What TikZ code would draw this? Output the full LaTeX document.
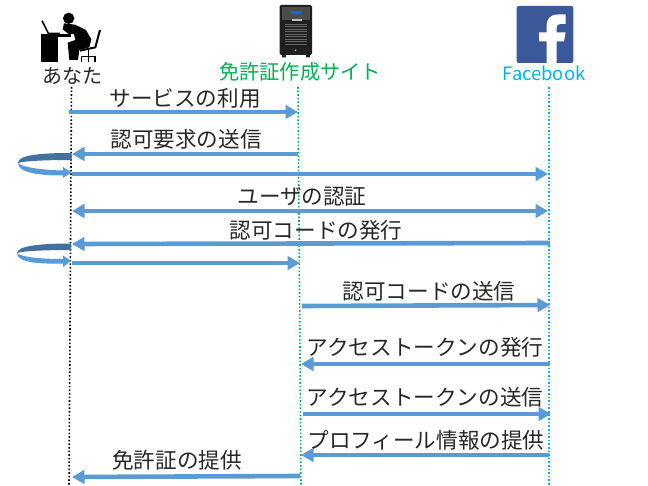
\documentclass[tikz,border=0pt]{standalone}
\usepackage{fontspec}
\setmainfont{Noto Sans CJK JP}
\usetikzlibrary{arrows.meta}
\definecolor{flow}{HTML}{5B9BD5}
\definecolor{flowdark}{HTML}{41719C}
\definecolor{gtext}{HTML}{00B050}
\definecolor{btext}{HTML}{00B0F0}
\definecolor{fbblue}{HTML}{3B5998}
\tikzset{
  msg/.style={draw=flow,line width=4.6pt,-{Triangle[length=12.5pt,width=13.5pt]}},
  msgboth/.style={draw=flow,line width=4.6pt,{Triangle[length=12.5pt,width=13.5pt]}-{Triangle[length=12.5pt,width=13.5pt]}},
  lbl/.style={font=\fontsize{21.6pt}{24pt}\selectfont,inner sep=0pt,text=black!85},
  life/.style={line width=1.6pt,dash pattern=on 1.6pt off 2pt},
}
\begin{document}
\begin{tikzpicture}[x=1pt,y=-1pt]
\useasboundingbox (0,0) rectangle (648,486);
% lifelines
\coordinate (at) at (71.5,87); \coordinate (ab) at (69,486);
\coordinate (st) at (298,87);  \coordinate (sb) at (301,486);
\coordinate (ft) at (549,87);  \coordinate (fb) at (549,486);
\draw[life,black] (at) -- (ab);
\draw[life,gtext] (st) -- (sb);
\draw[life,btext] (ft) -- (fb);
% person icon
\begin{scope}[x=0.3333pt,y=-0.3333pt]
  \fill[black] (124,105) rectangle (175,185);
  \fill[black] (124,102) rectangle (214,112);
  \draw[black,line width=1.6pt] (126,62) -- (145,100) -- (180,100);
  \fill[black] (206,55) circle (17);
  \fill[black] (192,70) -- (225,74) -- (258,90) -- (274,118) -- (268,142) -- (238,150)
     -- (234,180) -- (208,180) -- (203,128) -- (226,120) -- (222,102) -- (206,102) -- (188,88) -- cycle;
  \draw[black,line width=2pt] (300,90) -- (286,142) -- (240,152);
  \draw[black,line width=1.6pt] (266,150) -- (266,168) (245,185) -- (245,170) -- (285,170) -- (285,185) (266,170) -- (266,185);
\end{scope}
% server icon
\fill[black!88,rounded corners=2pt] (279.5,5) rectangle (312,55);
\fill[black!88] (282,55) rectangle (286,57.5) (306,55) rectangle (310,57.5);
\fill[black!70] (282,7) rectangle (309.5,20);
\fill[blue!60!cyan] (291,10.7) rectangle (301.5,14);
\fill[black!25] (292,19.5) rectangle (301.5,21.5);
\foreach \yy in {24,26.5,...,44} \draw[black!60,line width=0.4pt] (285,\yy) -- (307,\yy);
\fill[black!30] (295.5,50.5) circle (1pt);
% facebook icon
\fill[fbblue,rounded corners=2pt] (516.7,6) rectangle (573.3,63);
\fill[white] (556.5,63) -- (556.5,41.5) -- (564,41.5) -- (565.5,32.5) -- (556.5,32.5) -- (556.5,28)
  .. controls (556.5,25) and (558,24) .. (560.5,24) -- (565.5,24) -- (565.5,14.5) -- (558,14.5)
  .. controls (549,14.5) and (546.5,20) .. (546.5,27) -- (546.5,32.5) -- (539,32.5) -- (539,41.5)
  -- (546.5,41.5) -- (546.5,63) -- cycle;
% titles
\node[inner sep=0pt,font=\fontsize{20pt}{22pt}\selectfont,text=black!85] (anata) at (72,76) {あなた};
\node[inner sep=0pt,font=\fontsize{20.2pt}{22pt}\selectfont,text=gtext] (site) at (300,72) {免許証作成サイト};
\node[inner sep=0pt,font=\fontsize{18.4pt}{22pt}\selectfont,text=btext] (fbook) at (544,73) {Facebook};
% self loops
\fill[flowdark] (71.5,153) .. controls (40,153) and (18,155) .. (18,163)
   .. controls (24,161) and (45,160) .. (71.5,160) -- cycle;
\fill[flow] (18,163) .. controls (22,167) and (40,170) .. (63,170.5) -- (63,167) -- (71.5,172.5) -- (63,178) -- (63,175.5)
   .. controls (40,175.5) and (18,173) .. (18,163) -- cycle;
\fill[flowdark] (71,243.5) .. controls (40,243.5) and (17,246) .. (17,253)
   .. controls (23,251) and (45,250) .. (71,250) -- cycle;
\fill[flow] (17,253) .. controls (21,257) and (40,259) .. (63,259) -- (63,255.5) -- (71,261) -- (63,267) -- (63,263.5)
   .. controls (40,264) and (17,263) .. (17,253) -- cycle;
% message anchors
\coordinate (a1) at (69,112);   \coordinate (s1) at (298,112);
\coordinate (s2) at (298,154);  \coordinate (a2) at (72,154);
\coordinate (a3) at (72,174);   \coordinate (f3) at (548,174);
\coordinate (a4) at (72,211);   \coordinate (f4) at (548,211);
\coordinate (f5) at (550,243);  \coordinate (a5) at (72,244);
\coordinate (a6) at (72,263);   \coordinate (s6) at (300,263);
\coordinate (s7) at (302,306);  \coordinate (f7) at (550,305);
\coordinate (f8) at (550,364);  \coordinate (s8) at (301,364);
\coordinate (s9) at (303,414);  \coordinate (f9) at (551,414);
\coordinate (f10) at (549,455); \coordinate (s10) at (301,455);
\coordinate (s11) at (300,476); \coordinate (a11) at (72,477);
\draw[msg] (a1) -- (s1);
\draw[msg] (s2) -- (a2);
\draw[msg] (a3) -- (f3);
\draw[msgboth] (a4) -- (f4);
\draw[msg] (f5) -- (a5);
\draw[msg] (a6) -- (s6);
\draw[msg] (s7) -- (f7);
\draw[msg] (f8) -- (s8);
\draw[msg] (s9) -- (f9);
\draw[msg] (f10) -- (s10);
\draw[msg] (s11) -- (a11);
% labels
\node[lbl] (l1) at (185,98) {サービスの利用};
\node[lbl] (l2) at (186,139) {認可要求の送信};
\node[lbl] (l4) at (302,197) {ユーザの認証};
\node[lbl] (l5) at (316,230) {認可コードの発行};
\node[lbl] (l7) at (429,291) {認可コードの送信};
\node[lbl] (l8) at (425,347) {アクセストークンの発行};
\node[lbl] (l9) at (425,397) {アクセストークンの送信};
\node[lbl] (l10) at (426,440) {プロフィール情報の提供};
\node[lbl] (l11) at (177,460) {免許証の提供};
\end{tikzpicture}
\end{document}
